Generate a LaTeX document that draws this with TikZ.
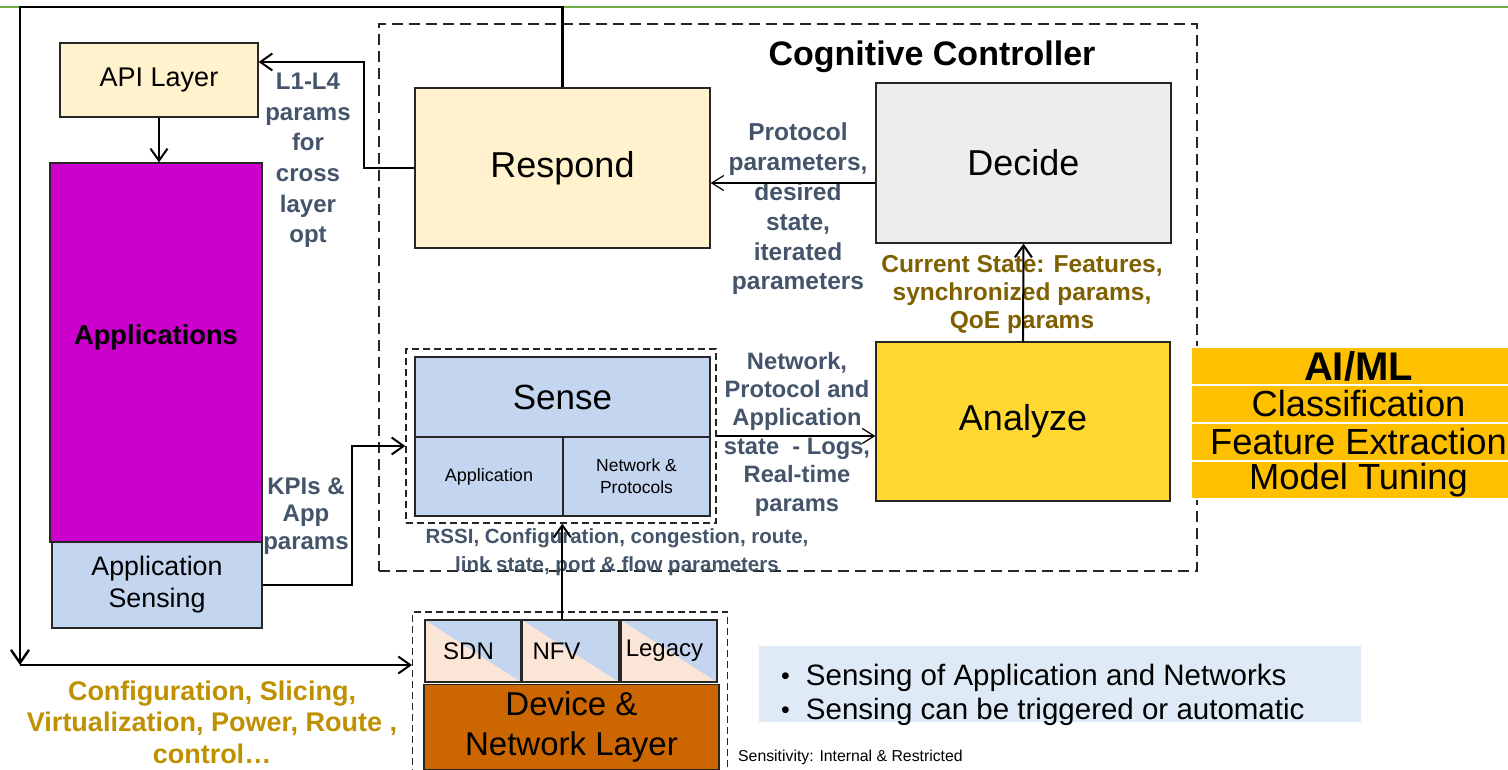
\documentclass[tikz,border=0pt]{standalone}
\usepackage{fontspec}
\setmainfont{Liberation Sans}
\usetikzlibrary{arrows.meta}
\newcommand{\fsz}[2]{\fontsize{#1}{#2}\selectfont}
\newcommand{\notebullet}{{\fsz{25}{34}\raisebox{1.5pt}{\textbullet}}\hspace{16pt}}

\definecolor{apiyel}{HTML}{FFF2CC}
\definecolor{appmag}{HTML}{CC00CC}
\definecolor{senseblue}{HTML}{C4D5EF}
\definecolor{decgray}{HTML}{EDEDED}
\definecolor{anayel}{HTML}{FFD932}
\definecolor{peach}{HTML}{FBE5D6}
\definecolor{devorange}{HTML}{CC6600}
\definecolor{aiorange}{HTML}{FFC000}
\definecolor{slate}{HTML}{44546A}
\definecolor{olive}{HTML}{7F6000}
\definecolor{gold}{HTML}{BF9000}
\definecolor{bulletbg}{HTML}{DEEBF7}
\definecolor{topgreen}{HTML}{70AD47}

\tikzset{
  box/.style={draw=black!85, line width=1.3pt, inner sep=0pt, align=center},
  zone/.style={draw=black!85, line width=1.3pt, dash pattern=on 7pt off 4pt, inner sep=0pt},
  bigzone/.style={draw=black!85, line width=1.3pt, dash pattern=on 11pt off 6pt, inner sep=0pt},
  lbl/.style={inner sep=0pt, align=center},
  arr/.style={-{Straight Barb[length=12pt,width=17pt,line width=2pt]}, line width=2pt},
  arrthin/.style={-{Straight Barb[length=12pt,width=15pt,line width=1.2pt]}, line width=1.2pt},
  framearr/.style={-{Straight Barb[length=13pt,width=18pt,line width=2.4pt]}, line width=2.8pt},
  cell/.style={box, fill=peach, line width=1.6pt,
    path picture={\fill[senseblue] (path picture bounding box.north west) --
      (path picture bounding box.north east) -- (path picture bounding box.south east) -- cycle;}},
  airow/.style={fill=aiorange, draw=white, line width=1.5pt, minimum width=335, minimum height=38, inner sep=0pt}
}

\begin{document}
\begin{tikzpicture}[x=1pt,y=-1pt]
\useasboundingbox (0,0) rectangle (1508,770);
\fill[white] (0,0) rectangle (1508,770);

% top rule
\draw[topgreen, line width=2.2pt] (0,7) -- (1508,7);

% left column
\node[box, fill=apiyel, minimum width=198, minimum height=74, font=\fsz{27}{30}] (api) at (159,80) {API Layer};
\node[box, fill=appmag, minimum width=212, minimum height=379] (apps) at (156,352.5) {};
\node[lbl, font=\fsz{27.3}{30}\bfseries] (appstxt) at (156,337) {Applications};
\node[box, fill=senseblue, minimum width=210, minimum height=86, font=\fsz{26.8}{32}] (appsense) at (157,585) {Application\\Sensing};

% cognitive controller
\node[bigzone, minimum width=818, minimum height=547] (cc) at (788,297.5) {};
\node[lbl, font=\fsz{34}{40}\bfseries] (cctitle) at (932,57) {Cognitive Controller};
\node[box, fill=apiyel, minimum width=295, minimum height=160, font=\fsz{36}{40}] (respond) at (562.5,168) {Respond};
\node[box, fill=decgray, minimum width=295, minimum height=160, font=\fsz{36}{40}] (decide) at (1023.5,163) {Decide};
\node[box, fill=anayel, minimum width=294, minimum height=159, font=\fsz{36}{40}] (analyze) at (1023,421.5) {Analyze};

% sense block
\node[zone, minimum width=310, minimum height=174] (sensezone) at (561,436) {};
\node[box, fill=senseblue, minimum width=295, minimum height=80, font=\fsz{35}{40}] (sensetop) at (562.5,397) {Sense};
\node[box, fill=senseblue, minimum width=148, minimum height=79, font=\fsz{18}{22}] (senseapp) at (489,476.5) {Application};
\node[box, fill=senseblue, minimum width=147, minimum height=79, font=\fsz{17.5}{22}] (sensenet) at (636.5,476.5) {Network \&\\Protocols};

% device and network layer
\node[zone, minimum width=315, minimum height=170, anchor=west] (devzone) at (412,697) {};
\node[cell, minimum width=96, minimum height=62, font=\fsz{24}{28}] (sdn) at (473,651) {\hspace*{-9pt}SDN};
\node[cell, minimum width=97, minimum height=62, font=\fsz{24}{28}] (nfv) at (570.5,651) {\hspace*{-28pt}NFV};
\node[cell, minimum width=96, minimum height=62, font=\fsz{24}{28}] (legacy) at (669,651) {\hspace*{-9pt}Legacy};
\node[box, fill=devorange, minimum width=295, minimum height=85, font=\fsz{33}{40}] (device) at (571.5,727) {Device \&\\Network Layer};

% AI/ML stack
\node[airow, font=\fsz{40}{44}\bfseries] (aiml) at (1358.5,366) {AI/ML};
\node[airow, font=\fsz{36.3}{40}] (aiclass) at (1358.5,404) {Classification};
\node[airow, font=\fsz{36.3}{40}] (aifeat) at (1358.5,442) {Feature Extraction};
\node[airow, font=\fsz{36.3}{40}] (aitune) at (1358.5,480) {Model Tuning};

% notes
\node[fill=bulletbg, minimum width=602, minimum height=76, inner sep=0pt] (notes) at (1060,684) {};
\node[lbl, anchor=west, align=left, font=\fsz{29.5}{34}] (notestxt) at (781,695) {\notebullet Sensing of Application and Networks\\\notebullet Sensing can be triggered or automatic};
\node[lbl, anchor=west, font=\fsz{15.8}{18}] (sens) at (738,757) {Sensitivity: Internal \& Restricted};

% labels
\node[lbl, text=slate, font=\fsz{24}{30.6}\bfseries] (l14) at (308,160.5) {L1-L4\\params\\for\\cross\\layer\\opt};
\node[lbl, text=slate, font=\fsz{24}{27.5}\bfseries] (kpi) at (306,516) {KPIs \&\\App\\params};
\node[lbl, text=slate, font=\fsz{24.5}{29.8}\bfseries] (protlbl) at (798,209) {Protocol\\parameters,\\desired\\state,\\iterated\\parameters};
\node[lbl, text=olive, font=\fsz{24.5}{28}\bfseries] (curlbl) at (1022,294) {Current State: Features,\\synchronized params,\\QoE params};
\node[lbl, text=slate, font=\fsz{23.7}{28.4}\bfseries] (netlbl) at (797,434) {Network,\\Protocol and\\Application\\state\ \ - Logs,\\Real-time\\params};
\node[lbl, text=slate, font=\fsz{20.5}{28}\bfseries] (rssi) at (617,552) {RSSI, Configuration, congestion, route,\\link state, port \& flow parameters};
\node[lbl, text=gold, font=\fsz{27}{31.5}\bfseries] (cfg) at (212,722) {Configuration, Slicing,\\Virtualization, Power, Route ,\\control\dots};

% connectors
\coordinate (ftop) at (20,7);
\coordinate (fcorner) at (20,665);
\draw[framearr] (respond.north) |- (ftop) -- (fcorner);
\draw[arr] (fcorner) -- (fcorner -| devzone.west);
\draw[arr] (respond.west) -- ++(-50,0) |- ([yshift=18pt]api.east);
\draw[arr] (api.south) -- (apps.north -| api.south);
\draw[arr] (appsense.east) -- ++(89,0) |- ([yshift=-10pt]sensezone.west);
\path ([yshift=-20pt]decide.west) coordinate (dw);
\draw[arrthin] (dw) -- (dw -| respond.east);
\draw[arr] (analyze.north) -- (decide.south);
\draw[arrthin] (sensezone.east) -- (sensezone.east -| analyze.west);
\draw[arr] (sensenet.south west |- nfv.north) -- (sensenet.south west |- sensezone.south);
\end{tikzpicture}
\end{document}
